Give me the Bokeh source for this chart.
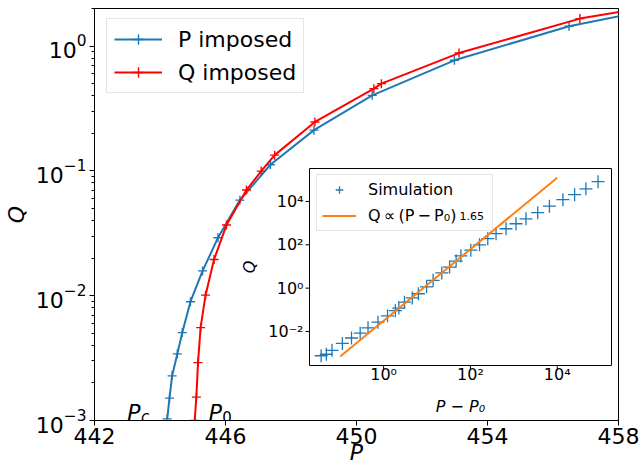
import math
from bokeh.plotting import figure
from bokeh.models import (Range1d, FixedTicker, Label, LogScale, Legend, LegendItem)
from bokeh.core.properties import value
from bokeh.embed import file_html
from bokeh.resources import INLINE

# ---- main data ----
P_blue = [444.22, 444.29, 444.37, 444.53, 444.68, 444.93, 445.30, 445.77, 446.44,
          447.37, 448.70, 450.48, 452.99, 456.49, 460.0]
Q_blue = [1.03e-3, 1.51e-3, 2.28e-3, 3.42e-3, 5.06e-3, 8.95e-3, 1.58e-2, 2.91e-2, 5.83e-2,
          0.112, 0.212, 0.403, 0.769, 1.44, 2.2]
P_red = [445.06, 445.11, 445.16, 445.24, 445.39, 445.65, 446.03, 446.64, 447.09,
         447.50, 448.73, 450.53, 450.76, 453.13, 456.82, 460.0]
Q_red = [1.0e-3, 1.54e-3, 2.91e-3, 5.55e-3, 1.01e-2, 1.95e-2, 3.68e-2, 0.0702, 0.0996,
         0.1337, 0.2466, 0.456, 0.500, 0.879, 1.66, 2.3]
x_ticks = [442, 446, 450, 454, 458]
y_ticks = [1e-3, 1e-2, 1e-1, 1.0]

# ---- inset data (P - P0, Q) ----
dP_sim = [0.0363, 0.0479, 0.0646, 0.112, 0.182, 0.288, 0.437, 0.741, 1.23, 1.86, 2.24,
          3.02, 4.57, 6.31, 9.77, 13.8, 21.9, 33.1, 46.8, 60.3, 102, 162, 251, 389,
          661, 1122, 1905, 3548, 6607, 13490, 25120, 45710, 87100]
Q_sim = [7.6e-4, 8.9e-4, 1.35e-3, 2.82e-3, 5.01e-3, 8.32e-3, 1.48e-2, 2.69e-2, 5.25e-2,
         9.12e-2, 0.120, 0.224, 0.355, 0.550, 1.15, 2.29, 5.01, 9.33, 17.8, 30.9, 56.2,
         100, 191, 324, 550, 933, 1585, 3020, 6030, 12020, 20420, 38020, 81280]
dP_fit = [0.1, 1.0e4]
Q_fit = [7.0e-4, 1.246e5]
ins_x_ticks = [1.0, 1e2, 1e4]
ins_x_labels = ["10⁰", "10²", "10⁴"]
ins_y_ticks = [1e-2, 1.0, 1e2, 1e4]
ins_y_labels = ["10⁻²", "10⁰", "10²", "10⁴"]

FONT = "DejaVu Sans"
BLUE = "#1f77b4"
RED = "#ff0000"
ORANGE = "#ff7f0e"

# ---- layout geometry (pixels) ----
L, R, T, B = 89, 22, 8, 52
FW, FH = 524, 412
# inset frame box inside the main frame (pixels from frame left / top)
IX0, IX1, IY0, IY1 = 215, 517, 160, 357
INS_LOGX = (-1.708, 5.25)   # inset x limits, log10(P - P0)
INS_LOGY = (-3.57, 5.52)    # inset y limits, log10(Q)

ppx = (IX1 - IX0) / (INS_LOGX[1] - INS_LOGX[0])   # px per decade
ppy = (IY1 - IY0) / (INS_LOGY[1] - INS_LOGY[0])
ix_range = Range1d(10 ** (INS_LOGX[0] - IX0 / ppx), 10 ** (INS_LOGX[1] + (FW - IX1) / ppx))
iy_range = Range1d(10 ** (INS_LOGY[0] - (FH - IY1) / ppy), 10 ** (INS_LOGY[1] + IY0 / ppy))
ix0, ix1 = 10 ** INS_LOGX[0], 10 ** INS_LOGX[1]
iy0, iy1 = 10 ** INS_LOGY[0], 10 ** INS_LOGY[1]

p = figure(frame_width=FW, frame_height=FH, x_range=Range1d(442, 458),
           y_range=Range1d(1e-3, 2.0), y_axis_type="log",
           min_border_left=L, min_border_right=R, min_border_top=T, min_border_bottom=B,
           output_backend="svg", toolbar_location=None)
p.extra_x_ranges = {"ix": ix_range}
p.extra_y_ranges = {"iy": iy_range}
p.extra_x_scales = {"ix": LogScale()}
p.extra_y_scales = {"iy": LogScale()}

for ax in p.axis:
    ax.axis_line_color = "black"
    ax.major_tick_line_color = "black"
    ax.minor_tick_line_color = "black"
    ax.major_tick_in = 0
    ax.major_tick_out = 5
    ax.minor_tick_in = 0
    ax.minor_tick_out = 3
    ax.major_label_text_font = FONT
    ax.major_label_text_font_size = "22px"
    ax.major_label_text_color = "black"
    ax.axis_label_text_font = FONT
    ax.axis_label_text_font_size = "22px"
    ax.axis_label_text_font_style = "italic"
    ax.axis_label_text_color = "black"
p.grid.visible = False
p.outline_line_color = "black"
p.outline_line_alpha = 1

p.xaxis.ticker = FixedTicker(ticks=x_ticks)
p.yaxis.ticker = FixedTicker(ticks=y_ticks,
                             minor_ticks=[m * 10.0 ** e for e in range(-3, 1) for m in range(2, 10)])
p.xaxis.axis_label = "P"
p.yaxis.axis_label = "Q"
p.xaxis.major_label_standoff = 2
p.yaxis.major_label_standoff = 3
p.xaxis.axis_label_standoff = -7
p.yaxis.axis_label_standoff = 4

# main curves
p.line(P_blue, Q_blue, line_color=BLUE, line_width=2, legend_label="P imposed")
p.scatter(P_blue, Q_blue, marker="cross", size=9, line_color=BLUE, line_width=1.4,
          legend_label="P imposed")
p.line(P_red, Q_red, line_color=RED, line_width=2, legend_label="Q imposed")
p.scatter(P_red, Q_red, marker="cross", size=9, line_color=RED, line_width=1.4,
          legend_label="Q imposed")

leg = p.legend[0]
leg.location = (12, 327)
leg.label_text_font = FONT
leg.label_text_font_size = "22px"
leg.label_text_color = "black"
leg.glyph_width = 48
leg.glyph_height = 26
leg.label_height = 26
leg.label_standoff = 16
leg.padding = 7
leg.spacing = 7
leg.margin = 0
leg.border_line_color = "#cccccc"
leg.background_fill_alpha = 0.8

for x, y, t, size, style in [(443.0, 1.15e-3, "P", "22px", "italic"),
                             (443.42, 1.07e-3, "c", "15px", "italic"),
                             (445.49, 1.15e-3, "P", "22px", "italic"),
                             (445.90, 1.07e-3, "0", "15px", "normal")]:
    p.add_layout(Label(x=x, y=y, text=t, text_font=FONT, text_font_size=size,
                       text_font_style=style, text_color="black", text_baseline="alphabetic"))

# ---- inset (drawn on its own log ranges inside the main frame) ----
kw = dict(x_range_name="ix", y_range_name="iy")
p.quad(left=[ix0], right=[ix1], bottom=[iy0], top=[iy1], fill_color="white",
       line_color="black", line_width=1, **kw)
tick_dx = 10 ** (-4 / ppx)
tick_dy = 10 ** (-4 / ppy)
p.segment(x0=ins_x_ticks, x1=ins_x_ticks, y0=[iy0] * 3, y1=[iy0 * tick_dy] * 3,
          line_color="black", line_width=1, **kw)
p.segment(x0=[ix0] * 4, x1=[ix0 * tick_dx] * 4, y0=ins_y_ticks, y1=ins_y_ticks,
          line_color="black", line_width=1, **kw)
p.text(x=ins_x_ticks, y=[iy0] * 3, text=ins_x_labels, text_font=value(FONT),
       text_font_size="16px", text_color="black", text_align="center",
       text_baseline="top", y_offset=-1, **kw)
p.text(x=[ix0] * 4, y=ins_y_ticks, text=ins_y_labels, text_font=value(FONT),
       text_font_size="16px", text_color="black", text_align="right",
       text_baseline="middle", x_offset=-6, **kw)
p.text(x=[math.sqrt(ix0 * ix1)], y=[iy0], text=["P − P₀"], text_font=value(FONT),
       text_font_size="16px", text_font_style="italic", text_color="black",
       text_align="center", text_baseline="middle", y_offset=41, **kw)
p.text(x=[ix0], y=[math.sqrt(iy0 * iy1)], text=["Q"], text_font=value(FONT),
       text_font_size="16px", text_font_style="italic", text_color="black",
       text_align="center", text_baseline="middle", x_offset=-60, angle=math.pi / 2, **kw)

sim_r = p.scatter(dP_sim, Q_sim, marker="cross", size=13, line_color=BLUE, line_width=1.3, **kw)
fit_r = p.line(dP_fit, Q_fit, line_color=ORANGE, line_width=2, **kw)

ileg = Legend(items=[LegendItem(label="Simulation", renderers=[sim_r]),
                     LegendItem(label="Q\u2009∝\u2009(P\u2009−\u2009P₀)      ", renderers=[fit_r])],
              location=(IX0 + 7, FH - IY1 + 134))
ileg.label_text_font = FONT
ileg.label_text_font_size = "16px"
ileg.label_text_color = "black"
ileg.glyph_width = 34
ileg.glyph_height = 19
ileg.label_height = 19
ileg.label_standoff = 12
ileg.padding = 5
ileg.spacing = 7
ileg.margin = 0
ileg.border_line_color = "#cccccc"
ileg.background_fill_alpha = 0
p.add_layout(ileg)
p.text(x=[55.8], y=[2200], text=["1.65"], text_font=value(FONT), text_font_size="11px",
       text_color="black", text_baseline="alphabetic", **kw)

open("out.html", "w").write(file_html(p, INLINE))
